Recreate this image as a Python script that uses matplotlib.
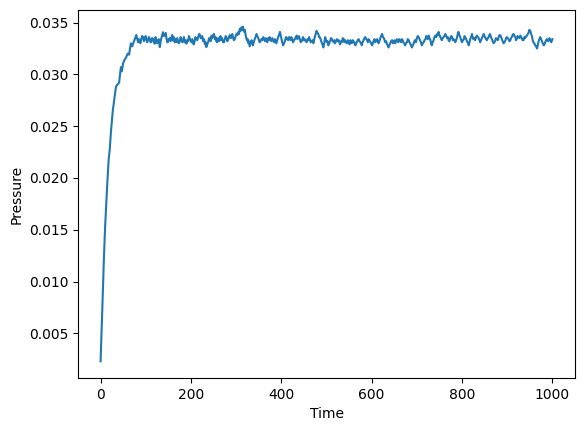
import matplotlib
matplotlib.use("Agg")
import matplotlib.pyplot as plt

# --- initial rise ---
time_rise = [0, 3, 5, 7, 10, 13, 15, 17, 18, 20, 23, 27, 31, 34, 37, 41, 43, 45, 47, 50,
             53, 56, 60, 63, 67, 70, 73, 75, 79]
pres_rise = [0.0023, 0.0062, 0.0090, 0.0118, 0.0153, 0.0180, 0.0196, 0.0212, 0.0219, 0.0226,
             0.0245, 0.0265, 0.0278, 0.0288, 0.0290, 0.0292, 0.0300, 0.0307, 0.0303, 0.0311,
             0.0314, 0.0316, 0.0320, 0.0319, 0.0330, 0.0327, 0.0331, 0.0333, 0.0338]

# --- plateau, 83..299 ---
time_a = [83, 84.5, 86, 88, 90, 92, 94, 96, 98, 99.5,
          101, 103, 105, 107, 109, 110.5, 112, 114, 116, 118,
          120, 121.5, 123, 125, 127, 129, 131, 133, 135, 136.5,
          138, 140, 142, 144, 146, 147.5, 149, 151, 153, 155,
          157, 158.5, 160, 162, 164, 166, 168, 169.5, 171, 173,
          175, 177, 179, 181, 183, 184.5, 186, 188, 190, 192,
          194, 195.5, 197, 199, 201, 203, 205, 206.5, 208, 210,
          212, 214, 216, 218, 220, 221.5, 223, 225, 227, 229,
          231, 232.5, 234, 236, 238, 240, 242, 243.5, 245, 247,
          249, 251, 253, 254.5, 256, 258, 260, 262, 264, 265.5,
          267, 269, 271, 273, 275, 277, 279, 280.5, 282, 284,
          286, 288, 290, 291.5, 293, 295, 297, 299]
pres_a = [.0331, .0334, .03328, .0330, .0334, .0337, .03359, .0332, .03344, .0337,
          .0335, .0331, .03328, .0336, .0334, .0331, .03312, .0335, .03344, .0331,
          .03296, .0336, .03344, .0330, .03312, .0334, .03263, .0332, .03359, .0338,
          .03407, .0337, .03375, .0340, .03344, .0331, .03312, .0334, .0335, .0332,
          .0336, .0338, .03328, .0336, .0331, .0334, .03312, .0335, .0333, .0330,
          .03312, .0336, .0334, .0331, .03328, .0336, .0331, .0333, .03296, .0333,
          .0332, .0337, .0335, .0333, .0331, .0334, .03296, .0329, .0332, .0336,
          .0334, .0333, .0336, .0339, .0338, .0335, .0335, .0337, .0332, .0334,
          .0329, .0331, .03263, .0329, .0331, .0335, .03344, .0332, .0337, .0335,
          .0338, .0339, .0334, .0336, .0332, .0331, .0335, .0332, .03344, .0337,
          .0333, .0335, .0331, .0331, .0334, .0337, .0335, .0332, .0333, .0336,
          .0338, .0335, .0336, .0339, .03359, .0333, .0334, .0337]

# --- plateau, 301..499 ---
time_b = [301, 303, 305, 306.5, 308, 310, 312, 313.5, 315, 316.5,
          318, 319.5, 321, 322.5, 324, 325.5, 327, 328.5, 330, 332,
          334, 335.5, 337, 339, 341, 343, 345, 347, 349, 350.5,
          352, 354, 356, 358, 360, 362, 364, 365.5, 367, 369,
          371, 372.5, 374, 376, 378, 380, 382, 384, 386, 387.5,
          389, 391, 393, 395, 397, 398.5, 400, 402, 404, 406,
          408, 409.5, 411, 413, 415, 417, 419, 420.5, 422, 424,
          426, 428, 430, 432, 434, 435.5, 437, 439, 441, 443,
          445, 446.5, 448, 450, 452, 454, 456, 458, 460, 461.5,
          463, 465, 467, 469, 471, 472.5, 474, 476, 478, 480,
          482, 483.5, 485, 487, 489, 491, 493, 495, 497, 499]
pres_b = [.03392, .0338, .0341, .0339, .0344, .0342, .03455, .0343, .0346, .0343,
          .0341, .0343, .0338, .0335, .03328, .0334, .0330, .0332, .0327, .0330,
          .0333, .0331, .0328, .0331, .0334, .0336, .0339, .0337, .0335, .0333,
          .0331, .0332, .0334, .0333, .0336, .0334, .0332, .0335, .0333, .0331,
          .0335, .0333, .0336, .0334, .0332, .0335, .0333, .0331, .0334, .0332,
          .0330, .0333, .0336, .0338, .0341, .0338, .0335, .0331, .0328, .0330,
          .0332, .0335, .0336, .0334, .0333, .0336, .0334, .0333, .0336, .0334,
          .0331, .0333, .0334, .0336, .03375, .0334, .0335, .0337, .0334, .0331,
          .0332, .0334, .0336, .0333, .0334, .0332, .0331, .0334, .0333, .0336,
          .0334, .0331, .0332, .0333, .0330, .0333, .0336, .0339, .0342, .0340,
          .0339, .0336, .0336, .0334, .0331, .0329, .0326, .0330, .0336, .0333]

# --- plateau, 501..698 ---
time_c = [501, 502.5, 504, 506, 508, 510, 512, 514, 516, 517.5,
          519, 521, 523, 525, 527, 528.5, 530, 532, 534, 536,
          538, 539.5, 541, 543, 545, 547, 549, 551, 553, 554.5,
          556, 558, 560, 562, 564, 565.5, 567, 569, 571, 573,
          575, 576.5, 578, 580, 582, 584, 586, 588, 590, 591.5,
          593, 595, 597, 599, 601, 602.5, 604, 606, 608, 610,
          612, 613.5, 615, 617, 619, 621, 623, 625, 627, 628.5,
          630, 632, 634, 635.5, 637, 639, 641, 643, 645, 647,
          649, 650.5, 652, 654, 656, 657.5, 659, 661, 663, 665,
          667, 668.5, 670, 672, 674, 676, 678, 680, 682, 683.5,
          685, 687, 689, 691, 693, 694.5, 696, 698]
pres_c = [.0331, .0332, .0328, .0330, .0332, .0335, .0334, .0332, .0331, .0333,
          .0330, .0332, .0334, .0332, .0333, .0331, .0329, .0332, .0331, .0335,
          .0334, .0331, .0333, .0331, .0330, .0333, .0331, .0329, .0333, .0331,
          .0330, .0333, .0332, .0330, .0328, .0330, .0331, .0333, .0334, .0332,
          .0331, .0330, .0328, .0331, .0333, .0335, .0336, .0334, .0333, .0331,
          .0334, .0333, .0331, .0330, .0328, .0330, .0332, .0334, .0331, .0333,
          .0334, .0332, .0330, .0332, .0335, .0337, .0339, .0336, .0335, .0333,
          .0331, .0332, .0329, .0328, .0326, .0328, .0330, .0332, .0333, .0330,
          .0331, .0333, .0330, .0332, .0334, .0332, .0331, .0334, .0333, .0331,
          .0334, .0333, .0331, .0330, .0328, .0330, .0331, .0334, .0333, .0331,
          .0330, .0328, .0326, .0328, .0330, .0332, .0333, .0331]

# --- plateau, 700..849.5 ---
time_d = [700, 702, 704, 706, 708, 709.5, 711, 713, 715, 717,
          719, 720.5, 722, 724, 726, 728, 730, 731.5, 733, 735,
          737, 739, 741, 743, 745, 746.5, 748, 750, 752, 754,
          755.5, 757, 759, 761, 763, 765, 767, 768.5, 770, 772,
          774, 776, 778, 779.5, 781, 783, 785, 787, 789, 790.5,
          792, 794, 796, 798, 800, 802, 804, 805.5, 807, 809,
          811, 813, 815, 816.5, 818, 820, 822, 823.5, 825, 827,
          829, 831, 833, 835, 837, 838.5, 840, 842, 844, 846,
          848, 849.5]
pres_d = [.0335, .0337, .0336, .0334, .0332, .0330, .0328, .0330, .0331, .0333,
          .0334, .0337, .0336, .0334, .03375, .0335, .0333, .0330, .0328, .0331,
          .0333, .0336, .03375, .0336, .0339, .0338, .0341, .0338, .0336, .0334,
          .0333, .0335, .0336, .0337, .0339, .0337, .0335, .0336, .0333, .0332,
          .0335, .0337, .0336, .0333, .0334, .0333, .0331, .0333, .0336, .0339,
          .0341, .0338, .0336, .0333, .0331, .0333, .0334, .0337, .0336, .0334,
          .0332, .0330, .0328, .0331, .0334, .0336, .0339, .0336, .0334, .0335,
          .0333, .0336, .03375, .0336, .0335, .0333, .0331, .0333, .0335, .0337,
          .0339, .0337]

# --- plateau, 851..1000 ---
time_e = [851, 853, 855, 857, 859, 860.5, 862, 864, 866, 868,
          870, 871.5, 873, 875, 877, 879, 881, 883, 885, 886.5,
          888, 890, 892, 894, 896, 897.5, 899, 901, 903, 905,
          907, 908.5, 910, 912, 914, 916, 918, 919.5, 921, 923,
          925, 927, 929, 930.5, 932, 934, 936, 938, 940, 942,
          944, 945.5, 947, 949, 951, 953, 955, 956.5, 958, 960,
          962, 964, 966, 967.5, 969, 971, 973, 975, 977, 978.5,
          981, 982.5, 984, 986, 988, 990, 992, 993.5, 995, 997.5,
          1000]
pres_e = [.0336, .0334, .0333, .0335, .0336, .0338, .0339, .0336, .0334, .0332,
          .0330, .0331, .0332, .0335, .0334, .0333, .0336, .0338, .03375, .0336,
          .0334, .0332, .0330, .0331, .0333, .0335, .0336, .0335, .0334, .0332,
          .0333, .0335, .0336, .0338, .0339, .0337, .0336, .0333, .0334, .0337,
          .0336, .0335, .03375, .0336, .0335, .0333, .0333, .0336, .0335, .0337,
          .03375, .0339, .0340, .0343, .0342, .0339, .0336, .0333, .0331, .0330,
          .0328, .0327, .0325, .0328, .0331, .0334, .0336, .0334, .0332, .0330,
          .0328, .0329, .0331, .0333, .0334, .0332, .0333, .0335, .0333, .0331,
          .0334]

time = time_rise + time_a + time_b + time_c + time_d + time_e
pressure = pres_rise + pres_a + pres_b + pres_c + pres_d + pres_e
if len(time) != len(pressure):
    raise ValueError(f"length mismatch {len(time)} vs {len(pressure)}")

fig = plt.figure(figsize=(5.84, 4.32), dpi=100)
ax = fig.add_axes([78 / 584, 54 / 432, 497 / 584, 368 / 432])
ax.plot(time, pressure, color="#1f77b4", linewidth=1.5)
ax.set_xlabel("Time")
ax.set_ylabel("Pressure")
fig.savefig("out.png", dpi=100)
